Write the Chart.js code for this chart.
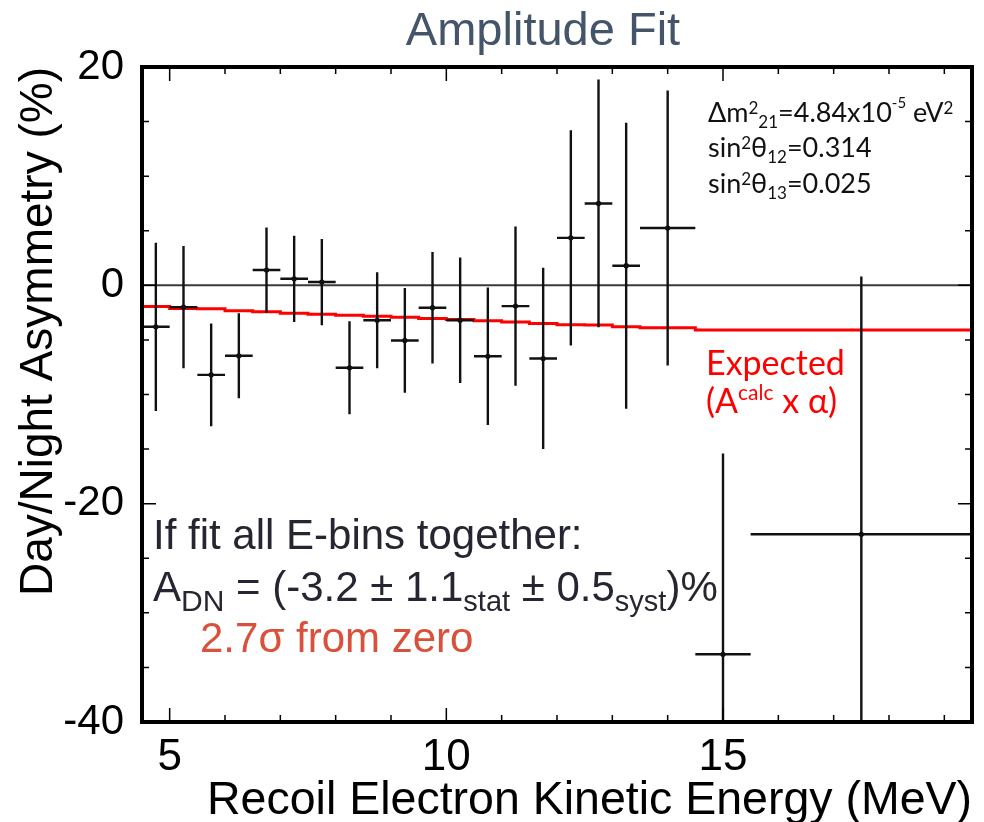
<!DOCTYPE html>
<html lang="en">
<head>
    <meta charset="UTF-8">
    <title>Amplitude Fit</title>
    <style>
        html, body { margin: 0; padding: 0; background: #fff; }
        #grafico { display: block; }
    </style>
</head>
<body>
    <canvas id="grafico" width="984" height="822"></canvas>

    <script src="https://cdn.jsdelivr.net/npm/chart.js"></script>

    <script>
    // energy bins (MeV)
    const binLow  = [4.5, 5.0, 5.5, 6.0, 6.5, 7.0, 7.5, 8.0, 8.5, 9.0, 9.5, 10.0, 10.5, 11.0, 11.5, 12.0, 12.5, 13.0, 13.5, 14.5, 15.5];
    const binHigh = [5.0, 5.5, 6.0, 6.5, 7.0, 7.5, 8.0, 8.5, 9.0, 9.5, 10.0, 10.5, 11.0, 11.5, 12.0, 12.5, 13.0, 13.5, 14.5, 15.5, 19.5];

    // measured day/night asymmetry (%) and its error
    const asymmetry = [-3.8, -2.0, -8.2, -6.45, 1.4, 0.6, 0.3, -7.55, -3.2, -5.05, -2.05, -3.2, -6.5, -1.9, -6.7, 4.35, 7.5, 1.8, 5.25, -33.8, -22.8];
    const asymErr   = [7.7, 5.6, 4.7, 3.9, 3.9, 3.95, 3.95, 4.25, 4.4, 4.8, 5.1, 5.75, 6.3, 7.3, 8.3, 9.85, 11.35, 13.1, 12.6, 18.4, 23.6];

    // expected (A_calc x alpha) per bin
    const expected = [-1.85, -1.95, -2.12, -2.15, -2.33, -2.43, -2.55, -2.65, -2.75, -2.84, -2.92, -3.04, -3.12, -3.24, -3.36, -3.49, -3.62, -3.64, -3.79, -3.88, -4.1];

    // axes
    const xTicks = [5, 10, 15];
    const yTicks = [20, 0, -20, -40];
    const xRange = [4.5, 19.5];
    const yRange = [-40, 20];
    const xMinorStep = 1;
    const yMinorStep = 5;

    Chart.defaults.font.family = "'Liberation Sans', Arial, sans-serif";
    Chart.defaults.color = '#000';

    // pontos centrais
    const pontos = [];
    for (let i = 0; i < asymmetry.length; i++) {
        pontos.push({ x: (binLow[i] + binHigh[i]) / 2, y: asymmetry[i] });
    }

    // histograma esperado (contorno em degraus)
    const linhaEsperada = [{ x: binLow[0], y: 0 }];
    for (let i = 0; i < expected.length; i++) {
        linhaEsperada.push({ x: binLow[i], y: expected[i] });
    }
    linhaEsperada.push({ x: binHigh[binHigh.length - 1], y: expected[expected.length - 1] });
    linhaEsperada.push({ x: binHigh[binHigh.length - 1], y: 0 });

    // barras de erro (horizontal = largura do bin)
    const barrasErro = {
        id: 'barrasErro',
        afterDatasetsDraw(chart) {
            const { ctx, chartArea, scales: { x, y } } = chart;
            ctx.save();
            ctx.beginPath();
            ctx.rect(chartArea.left, chartArea.top, chartArea.width, chartArea.height);
            ctx.clip();
            ctx.strokeStyle = '#111';
            ctx.lineWidth = 2.4;
            for (let i = 0; i < asymmetry.length; i++) {
                const xc = x.getPixelForValue((binLow[i] + binHigh[i]) / 2);
                const yc = y.getPixelForValue(asymmetry[i]);
                ctx.beginPath();
                ctx.moveTo(x.getPixelForValue(binLow[i]), yc);
                ctx.lineTo(x.getPixelForValue(binHigh[i]), yc);
                ctx.moveTo(xc, y.getPixelForValue(asymmetry[i] + asymErr[i]));
                ctx.lineTo(xc, y.getPixelForValue(asymmetry[i] - asymErr[i]));
                ctx.stroke();
            }
            ctx.restore();
        }
    };

    function escreve(ctx, x, y, partes) {
        let cx = x;
        for (const p of partes) {
            ctx.font = p.fonte;
            ctx.fillStyle = p.cor;
            ctx.fillText(p.t, cx, y + (p.dy || 0));
            cx += ctx.measureText(p.t).width;
        }
    }

    // moldura, ticks internos e textos
    const moldura = {
        id: 'moldura',
        afterDraw(chart) {
            const { ctx, chartArea: a, scales: { x, y } } = chart;
            ctx.save();

            // ticks para dentro, nos quatro lados
            ctx.strokeStyle = '#000';
            ctx.lineWidth = 1.5;
            ctx.beginPath();
            for (let v = Math.ceil(xRange[0]); v <= xRange[1]; v += xMinorStep) {
                const px = x.getPixelForValue(v);
                const len = v % 5 === 0 ? 14 : 7;
                ctx.moveTo(px, a.bottom); ctx.lineTo(px, a.bottom - len);
                ctx.moveTo(px, a.top); ctx.lineTo(px, a.top + len);
            }
            for (let v = yRange[0]; v <= yRange[1]; v += yMinorStep) {
                const py = y.getPixelForValue(v);
                const len = v % 20 === 0 ? 14 : 7;
                ctx.moveTo(a.left, py); ctx.lineTo(a.left + len, py);
                ctx.moveTo(a.right, py); ctx.lineTo(a.right - len, py);
            }
            ctx.stroke();

            ctx.lineWidth = 4;
            ctx.strokeRect(a.left, a.top, a.right - a.left, a.bottom - a.top);

            // titulo
            ctx.font = "47px 'Liberation Sans', Arial, sans-serif";
            ctx.fillStyle = '#44546a';
            ctx.textAlign = 'center';
            ctx.textBaseline = 'alphabetic';
            ctx.fillText('Amplitude Fit', 543, 45);
            ctx.textAlign = 'left';

            // parametros de oscilacao
            const lato = s => s + "px Lato, 'Open Sans', sans-serif";
            const k = '#111';
            escreve(ctx, 708, 122, [
                { t: 'Δm', fonte: lato(27), cor: k },
                { t: '2', fonte: lato(17), cor: k, dy: -8 },
                { t: '21', fonte: lato(17), cor: k, dy: 6 },
                { t: '=4.84x10', fonte: lato(27), cor: k },
                { t: '-5', fonte: lato(15), cor: k, dy: -14 },
                { t: ' eV', fonte: lato(27), cor: k },
                { t: '2', fonte: lato(17), cor: k, dy: -8 }
            ]);
            escreve(ctx, 708, 157, [
                { t: 'sin', fonte: lato(27), cor: k },
                { t: '2', fonte: lato(17), cor: k, dy: -8 },
                { t: 'θ', fonte: lato(27), cor: k },
                { t: '12', fonte: lato(17), cor: k, dy: 6 },
                { t: '=0.314', fonte: lato(27), cor: k }
            ]);
            escreve(ctx, 708, 193, [
                { t: 'sin', fonte: lato(27), cor: k },
                { t: '2', fonte: lato(17), cor: k, dy: -8 },
                { t: 'θ', fonte: lato(27), cor: k },
                { t: '13', fonte: lato(17), cor: k, dy: 6 },
                { t: '=0.025', fonte: lato(27), cor: k }
            ]);

            // legenda do esperado
            const vermelho = '#ff0000';
            escreve(ctx, 706, 375, [{ t: 'Expected', fonte: lato(34), cor: vermelho }]);
            escreve(ctx, 706, 413, [
                { t: '(A', fonte: lato(34), cor: vermelho },
                { t: 'calc', fonte: lato(21), cor: vermelho, dy: -13 },
                { t: ' x α)', fonte: lato(34), cor: vermelho }
            ]);

            // resultado do ajuste
            const hel = s => s + "px 'Liberation Sans', Arial, sans-serif";
            const cinza = '#262632';
            escreve(ctx, 153, 549, [{ t: 'If fit all E-bins together:', fonte: hel(42), cor: cinza }]);
            escreve(ctx, 153, 601, [
                { t: 'A', fonte: hel(42), cor: cinza },
                { t: 'DN', fonte: hel(30), cor: cinza, dy: 10 },
                { t: ' = (-3.2 ± 1.1', fonte: hel(42), cor: cinza },
                { t: 'stat', fonte: hel(29), cor: cinza, dy: 10 },
                { t: ' ± 0.5', fonte: hel(42), cor: cinza },
                { t: 'syst', fonte: hel(29), cor: cinza, dy: 10 },
                { t: ')%', fonte: hel(42), cor: cinza }
            ]);
            escreve(ctx, 200, 652, [{ t: '2.7σ from zero', fonte: hel(42), cor: '#d9513a' }]);

            ctx.restore();
        }
    };

    const ctx = document.getElementById('grafico');

    new Chart(ctx, {
        type: 'scatter',
        data: {
            datasets: [
                {
                    label: 'Data',
                    data: pontos,
                    pointRadius: 2.6,
                    pointBackgroundColor: '#000',
                    pointBorderWidth: 0,
                    order: 0
                },
                {
                    type: 'line',
                    label: 'Expected',
                    data: linhaEsperada,
                    stepped: 'after',
                    borderColor: '#ff0000',
                    borderWidth: 3,
                    pointRadius: 0,
                    fill: false,
                    order: 1
                },
                {
                    type: 'line',
                    label: 'zero',
                    data: [{ x: xRange[0], y: 0 }, { x: xRange[1], y: 0 }],
                    borderColor: '#3a3a3a',
                    borderWidth: 2,
                    pointRadius: 0,
                    fill: false,
                    order: 2
                }
            ]
        },
        options: {
            responsive: false,
            animation: false,
            layout: { padding: { top: 67, right: 12, bottom: 0, left: 0 } },
            plugins: {
                legend: { display: false },
                tooltip: { enabled: false }
            },
            scales: {
                x: {
                    type: 'linear',
                    min: xRange[0],
                    max: xRange[1],
                    afterBuildTicks: s => { s.ticks = xTicks.map(v => ({ value: v })); },
                    afterFit: s => { s.height = 100; },
                    grid: { display: false, drawTicks: false },
                    border: { display: false },
                    ticks: { font: { size: 44 }, padding: 9, maxRotation: 0, autoSkip: false },
                    title: {
                        display: true,
                        text: 'Recoil Electron Kinetic Energy (MeV)',
                        align: 'end',
                        font: { size: 46.5 },
                        padding: { top: 0, bottom: -7 }
                    }
                },
                y: {
                    min: yRange[0],
                    max: yRange[1],
                    afterBuildTicks: s => { s.ticks = yTicks.map(v => ({ value: v })); },
                    afterFit: s => { s.width = 142; },
                    grid: { display: false, drawTicks: false },
                    border: { display: false },
                    ticks: { font: { size: 42 }, padding: 18, autoSkip: false },
                    title: {
                        display: true,
                        text: 'Day/Night Asymmetry (%)',
                        align: 'end',
                        font: { size: 46 },
                        padding: { top: 12, bottom: 0 }
                    }
                }
            }
        },
        plugins: [barrasErro, moldura]
    });
    </script>
</body>
</html>
